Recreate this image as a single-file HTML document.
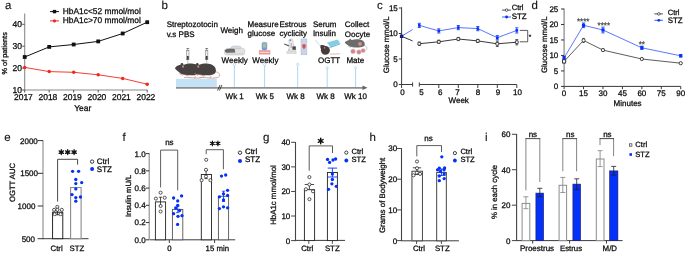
<!DOCTYPE html>
<html><head><meta charset="utf-8"><style>
html,body{margin:0;padding:0;background:#fff;}
svg{display:block;will-change:transform;}
text{font-family:"Liberation Sans", sans-serif;text-rendering:geometricPrecision;}
</style></head><body>
<svg width="685" height="254" viewBox="0 0 685 254">
<rect width="685" height="254" fill="#fff"/>
<text x="4.9" y="9.4" font-size="11.5" text-anchor="start" fill="#111"  stroke="#111" stroke-width="0.12">a</text>
<text x="161.6" y="9.2" font-size="11.5" text-anchor="start" fill="#111"  stroke="#111" stroke-width="0.12">b</text>
<text x="377.0" y="9.4" font-size="11.5" text-anchor="start" fill="#111"  stroke="#111" stroke-width="0.12">c</text>
<text x="531.6" y="9.2" font-size="11.5" text-anchor="start" fill="#111"  stroke="#111" stroke-width="0.12">d</text>
<text x="4.3" y="140.6" font-size="11.5" text-anchor="start" fill="#111"  stroke="#111" stroke-width="0.12">e</text>
<text x="122.6" y="140.6" font-size="11.5" text-anchor="start" fill="#111"  stroke="#111" stroke-width="0.12">f</text>
<text x="262.9" y="140.8" font-size="11.5" text-anchor="start" fill="#111"  stroke="#111" stroke-width="0.12">g</text>
<text x="369.4" y="141.0" font-size="11.5" text-anchor="start" fill="#111"  stroke="#111" stroke-width="0.12">h</text>
<text x="485.0" y="140.6" font-size="11.5" text-anchor="start" fill="#111"  stroke="#111" stroke-width="0.12">i</text>
<line x1="24.7" y1="13.5" x2="24.7" y2="90.5" stroke="#8a8a8a" stroke-width="1.1" />
<line x1="24.2" y1="90.0" x2="147.4" y2="90.0" stroke="#8a8a8a" stroke-width="1.1" />
<line x1="22.2" y1="90.0" x2="24.7" y2="90.0" stroke="#555" stroke-width="1" />
<text x="21.9" y="93.0" font-size="8.5" text-anchor="end" fill="#0a0a0a"  stroke="#0a0a0a" stroke-width="0.26">10</text>
<line x1="22.2" y1="68.1" x2="24.7" y2="68.1" stroke="#555" stroke-width="1" />
<text x="21.9" y="71.1" font-size="8.5" text-anchor="end" fill="#0a0a0a"  stroke="#0a0a0a" stroke-width="0.26">20</text>
<line x1="22.2" y1="46.2" x2="24.7" y2="46.2" stroke="#555" stroke-width="1" />
<text x="21.9" y="49.2" font-size="8.5" text-anchor="end" fill="#0a0a0a"  stroke="#0a0a0a" stroke-width="0.26">30</text>
<line x1="22.2" y1="24.299999999999997" x2="24.7" y2="24.299999999999997" stroke="#555" stroke-width="1" />
<text x="21.9" y="27.299999999999997" font-size="8.5" text-anchor="end" fill="#0a0a0a"  stroke="#0a0a0a" stroke-width="0.26">40</text>
<line x1="24.7" y1="90" x2="24.7" y2="92.5" stroke="#555" stroke-width="1" />
<text x="23.4" y="99.6" font-size="8.5" text-anchor="middle" fill="#0a0a0a"  stroke="#0a0a0a" stroke-width="0.26">2017</text>
<line x1="49.2" y1="90" x2="49.2" y2="92.5" stroke="#555" stroke-width="1" />
<text x="47.900000000000006" y="99.6" font-size="8.5" text-anchor="middle" fill="#0a0a0a"  stroke="#0a0a0a" stroke-width="0.26">2018</text>
<line x1="73.7" y1="90" x2="73.7" y2="92.5" stroke="#555" stroke-width="1" />
<text x="72.4" y="99.6" font-size="8.5" text-anchor="middle" fill="#0a0a0a"  stroke="#0a0a0a" stroke-width="0.26">2019</text>
<line x1="98.2" y1="90" x2="98.2" y2="92.5" stroke="#555" stroke-width="1" />
<text x="96.9" y="99.6" font-size="8.5" text-anchor="middle" fill="#0a0a0a"  stroke="#0a0a0a" stroke-width="0.26">2020</text>
<line x1="122.7" y1="90" x2="122.7" y2="92.5" stroke="#555" stroke-width="1" />
<text x="121.4" y="99.6" font-size="8.5" text-anchor="middle" fill="#0a0a0a"  stroke="#0a0a0a" stroke-width="0.26">2021</text>
<line x1="147.2" y1="90" x2="147.2" y2="92.5" stroke="#555" stroke-width="1" />
<text x="145.89999999999998" y="99.6" font-size="8.5" text-anchor="middle" fill="#0a0a0a"  stroke="#0a0a0a" stroke-width="0.26">2022</text>
<text x="82.8" y="111.2" font-size="8.5" text-anchor="middle" fill="#0a0a0a"  stroke="#0a0a0a" stroke-width="0.26">Year</text>
<text transform="translate(6.7,53.3) rotate(-90)" font-size="7.3" text-anchor="middle" fill="#0a0a0a"  stroke="#0a0a0a" stroke-width="0.26">% of patients</text>
<polyline points="24.7,67.4 49.2,71.6 73.7,72.3 98.2,74.8 122.7,78.4 147.2,84.2" fill="none" stroke="#f0281e" stroke-width="0.9" stroke-linejoin="round"/>
<circle cx="24.7" cy="67.4" r="1.75" fill="#f0281e" stroke="none" stroke-width="1"/>
<circle cx="49.2" cy="71.6" r="1.75" fill="#f0281e" stroke="none" stroke-width="1"/>
<circle cx="73.7" cy="72.3" r="1.75" fill="#f0281e" stroke="none" stroke-width="1"/>
<circle cx="98.2" cy="74.8" r="1.75" fill="#f0281e" stroke="none" stroke-width="1"/>
<circle cx="122.7" cy="78.4" r="1.75" fill="#f0281e" stroke="none" stroke-width="1"/>
<circle cx="147.2" cy="84.2" r="1.75" fill="#f0281e" stroke="none" stroke-width="1"/>
<polyline points="24.7,57.0 49.2,46.9 73.7,44.5 98.2,41.4 122.7,33.5 147.2,22.2" fill="none" stroke="#111" stroke-width="1.0" stroke-linejoin="round"/>
<rect x="22.8" y="55.1" width="3.8" height="3.8" fill="#111" stroke="none" stroke-width="1" />
<rect x="47.300000000000004" y="45.0" width="3.8" height="3.8" fill="#111" stroke="none" stroke-width="1" />
<rect x="71.8" y="42.6" width="3.8" height="3.8" fill="#111" stroke="none" stroke-width="1" />
<rect x="96.3" y="39.5" width="3.8" height="3.8" fill="#111" stroke="none" stroke-width="1" />
<rect x="120.8" y="31.6" width="3.8" height="3.8" fill="#111" stroke="none" stroke-width="1" />
<rect x="145.29999999999998" y="20.3" width="3.8" height="3.8" fill="#111" stroke="none" stroke-width="1" />
<line x1="50" y1="11.6" x2="59" y2="11.6" stroke="#111" stroke-width="1" />
<rect x="52.8" y="9.9" width="3.4" height="3.4" fill="#111" stroke="none" stroke-width="1" />
<line x1="50" y1="20.9" x2="59" y2="20.9" stroke="#f0281e" stroke-width="1" />
<circle cx="54.5" cy="20.9" r="1.6" fill="#f0281e" stroke="none" stroke-width="1"/>
<text x="62.8" y="13.7" font-size="8.4" text-anchor="start" fill="#0a0a0a"  stroke="#0a0a0a" stroke-width="0.26">HbA1c&lt;52 mmol/mol</text>
<text x="62.8" y="23.1" font-size="8.4" text-anchor="start" fill="#0a0a0a"  stroke="#0a0a0a" stroke-width="0.26">HbA1c&gt;70 mmol/mol</text>
<text x="166.7" y="27.0" font-size="8" text-anchor="start" fill="#0a0a0a"  stroke="#0a0a0a" stroke-width="0.26">Streptozotocin</text>
<text x="166.7" y="36.8" font-size="8" text-anchor="start" fill="#0a0a0a"  stroke="#0a0a0a" stroke-width="0.26">v.s PBS</text>
<text x="220.4" y="32.9" font-size="8" text-anchor="start" fill="#0a0a0a"  stroke="#0a0a0a" stroke-width="0.26">Weigh</text>
<text x="247.5" y="27.2" font-size="8" text-anchor="start" fill="#0a0a0a"  stroke="#0a0a0a" stroke-width="0.26">Measure</text>
<text x="247.5" y="36.3" font-size="8" text-anchor="start" fill="#0a0a0a"  stroke="#0a0a0a" stroke-width="0.26">glucose</text>
<text x="279.5" y="27.2" font-size="8" text-anchor="start" fill="#0a0a0a"  stroke="#0a0a0a" stroke-width="0.26">Estrous</text>
<text x="279.5" y="36.3" font-size="8" text-anchor="start" fill="#0a0a0a"  stroke="#0a0a0a" stroke-width="0.26">cyclicity</text>
<text x="312.9" y="27.0" font-size="8" text-anchor="start" fill="#0a0a0a"  stroke="#0a0a0a" stroke-width="0.26">Serum</text>
<text x="312.9" y="36.3" font-size="8" text-anchor="start" fill="#0a0a0a"  stroke="#0a0a0a" stroke-width="0.26">Insulin</text>
<text x="344.8" y="27.0" font-size="8" text-anchor="start" fill="#0a0a0a"  stroke="#0a0a0a" stroke-width="0.26">Collect</text>
<text x="344.8" y="36.5" font-size="8" text-anchor="start" fill="#0a0a0a"  stroke="#0a0a0a" stroke-width="0.26">Oocyte</text>
<text x="221.6" y="62.7" font-size="8" text-anchor="start" fill="#0a0a0a"  stroke="#0a0a0a" stroke-width="0.26">Weekly</text>
<text x="252.3" y="62.7" font-size="8" text-anchor="start" fill="#0a0a0a"  stroke="#0a0a0a" stroke-width="0.26">Weekly</text>
<text x="318.0" y="62.7" font-size="8" text-anchor="start" fill="#0a0a0a"  stroke="#0a0a0a" stroke-width="0.26">OGTT</text>
<text x="346.4" y="62.7" font-size="8" text-anchor="start" fill="#0a0a0a"  stroke="#0a0a0a" stroke-width="0.26">Mate</text>
<text x="234.7" y="99.1" font-size="8" text-anchor="middle" fill="#0a0a0a"  stroke="#0a0a0a" stroke-width="0.26">Wk 1</text>
<text x="264.8" y="99.1" font-size="8" text-anchor="middle" fill="#0a0a0a"  stroke="#0a0a0a" stroke-width="0.26">Wk 5</text>
<text x="295.5" y="99.1" font-size="8" text-anchor="middle" fill="#0a0a0a"  stroke="#0a0a0a" stroke-width="0.26">Wk 8</text>
<text x="325.6" y="99.1" font-size="8" text-anchor="middle" fill="#0a0a0a"  stroke="#0a0a0a" stroke-width="0.26">Wk 8</text>
<text x="355.6" y="99.1" font-size="8" text-anchor="middle" fill="#0a0a0a"  stroke="#0a0a0a" stroke-width="0.26">Wk 10</text>
<rect x="176" y="78.8" width="40.8" height="8.2" fill="#c4e2f6" stroke="none" stroke-width="1" />
<line x1="176" y1="87.85" x2="364" y2="87.85" stroke="#8f8f8f" stroke-width="1.8" />
<path d="M362.5,85.6 L367.5,87.8 L362.5,90.0 Z" fill="#666" stroke="none" stroke-width="1" />
<line x1="217.5" y1="90.6" x2="220.0" y2="85.0" stroke="#2e2e2e" stroke-width="0.85" />
<line x1="219.4" y1="90.6" x2="221.9" y2="85.0" stroke="#2e2e2e" stroke-width="0.85" />
<line x1="234.4" y1="64.5" x2="234.4" y2="87.0" stroke="#9ccbeb" stroke-width="0.8" />
<circle cx="234.4" cy="64.5" r="1.1" fill="#fff" stroke="#9ccbeb" stroke-width="0.6"/>
<line x1="264.6" y1="64.5" x2="264.6" y2="87.0" stroke="#9ccbeb" stroke-width="0.8" />
<circle cx="264.6" cy="64.5" r="1.1" fill="#fff" stroke="#9ccbeb" stroke-width="0.6"/>
<line x1="297.7" y1="64.3" x2="297.7" y2="87.0" stroke="#9ccbeb" stroke-width="0.8" />
<circle cx="297.7" cy="64.3" r="1.1" fill="#fff" stroke="#9ccbeb" stroke-width="0.6"/>
<line x1="327.2" y1="67.7" x2="327.2" y2="87.0" stroke="#9ccbeb" stroke-width="0.8" />
<circle cx="327.2" cy="67.7" r="1.1" fill="#fff" stroke="#9ccbeb" stroke-width="0.6"/>
<line x1="355.6" y1="67.7" x2="355.6" y2="87.0" stroke="#9ccbeb" stroke-width="0.8" />
<circle cx="355.6" cy="67.7" r="1.1" fill="#fff" stroke="#9ccbeb" stroke-width="0.6"/>
<path d="M200.00,71.80 C203.60,72.10 205.20,74.50 204.00,76.50 C202.60,78.30 196.00,78.30 191.00,77.70 C188.00,77.40 186.00,77.30 184.00,77.50" fill="none" stroke="#d39890" stroke-width="0.9" />
<path d="M192.50,74.60 C195.50,75.40 197.00,77.20 194.00,78.00" fill="none" stroke="#d39890" stroke-width="0.8" />
<path d="M175.00,68.20 C175.60,67.00 177.20,65.60 179.50,65.00 C181.00,64.60 182.50,64.60 184.00,64.80 C187.00,63.60 192.00,63.00 195.50,64.20 C199.00,65.40 201.00,68.20 200.60,71.20 C200.20,73.80 198.00,75.00 195.00,75.00 C191.00,75.40 187.00,75.40 184.00,74.80 C181.50,74.40 180.00,73.20 178.60,71.80 C177.20,70.60 175.60,69.40 175.00,68.20 Z" fill="#474241" stroke="none" stroke-width="1" />
<path d="M179.40,73.60 L182.80,75.40 M185.00,75.00 L188.50,75.80" fill="none" stroke="#d39890" stroke-width="0.85" />
<circle cx="182.0" cy="64.3" r="1.3" fill="#474241" stroke="none" stroke-width="1"/>
<ellipse cx="183.00" cy="66.40" rx="0.95" ry="1.25" fill="#c68d86"/>
<path d="M215.30,71.80 C218.90,72.10 220.50,74.50 219.30,76.50 C217.90,78.30 211.30,78.30 206.30,77.70 C203.30,77.40 201.30,77.30 199.30,77.50" fill="none" stroke="#d39890" stroke-width="0.9" />
<path d="M207.80,74.60 C210.80,75.40 212.30,77.20 209.30,78.00" fill="none" stroke="#d39890" stroke-width="0.8" />
<path d="M190.30,68.20 C190.90,67.00 192.50,65.60 194.80,65.00 C196.30,64.60 197.80,64.60 199.30,64.80 C202.30,63.60 207.30,63.00 210.80,64.20 C214.30,65.40 216.30,68.20 215.90,71.20 C215.50,73.80 213.30,75.00 210.30,75.00 C206.30,75.40 202.30,75.40 199.30,74.80 C196.80,74.40 195.30,73.20 193.90,71.80 C192.50,70.60 190.90,69.40 190.30,68.20 Z" fill="#474241" stroke="none" stroke-width="1" />
<path d="M194.70,73.60 L198.10,75.40 M200.30,75.00 L203.80,75.80" fill="none" stroke="#d39890" stroke-width="0.85" />
<circle cx="197.3" cy="64.3" r="1.3" fill="#474241" stroke="none" stroke-width="1"/>
<ellipse cx="198.30" cy="66.40" rx="0.95" ry="1.25" fill="#c68d86"/>
<rect x="186.60000000000002" y="50.6" width="2.4" height="9.2" fill="#ececec" stroke="#666" stroke-width="0.45" />
<rect x="186.9" y="56.0" width="1.8" height="3.6" fill="#3a3a3a" stroke="none" stroke-width="1" />
<line x1="187.8" y1="48.3" x2="187.8" y2="50.6" stroke="#444" stroke-width="0.6" />
<line x1="186.4" y1="48.5" x2="189.20000000000002" y2="48.5" stroke="#444" stroke-width="0.6" />
<line x1="187.8" y1="59.8" x2="187.8" y2="64.3" stroke="#8a8a8a" stroke-width="0.5" />
<rect x="205.5" y="50.6" width="2.4" height="9.2" fill="#ececec" stroke="#666" stroke-width="0.45" />
<rect x="205.79999999999998" y="56.0" width="1.8" height="3.6" fill="#3a3a3a" stroke="none" stroke-width="1" />
<line x1="206.7" y1="48.3" x2="206.7" y2="50.6" stroke="#444" stroke-width="0.6" />
<line x1="205.29999999999998" y1="48.5" x2="208.1" y2="48.5" stroke="#444" stroke-width="0.6" />
<line x1="206.7" y1="59.8" x2="206.7" y2="64.3" stroke="#8a8a8a" stroke-width="0.5" />
<path d="M224.4,51.0 C224.6,49.4 226,48.4 228,48.3 L242,48.0 C243.8,48.0 245,49 244.9,50.6 L244.6,53.2 C244.4,54.5 243.2,55.0 241.5,55.0 L227.5,55.0 C225.6,55.0 224.5,54.2 224.4,53.0 Z" fill="#e2e2e2" stroke="#b4b4b4" stroke-width="0.4" />
<path d="M225.0,50.6 C225.6,49.4 227,48.8 229,48.7 L234.5,48.6 L235.2,52.6 L227,52.8 C225.6,52.8 224.8,51.9 225.0,50.6 Z" fill="#5e5e5e" stroke="none" stroke-width="1" />
<line x1="226.5" y1="50.2" x2="233.8" y2="50.0" stroke="#8a8a8a" stroke-width="0.4" />
<line x1="226.3" y1="51.5" x2="234.2" y2="51.3" stroke="#8a8a8a" stroke-width="0.4" />
<ellipse cx="236.1" cy="47.4" rx="5.0" ry="1.45" fill="#d5dbe3" stroke="#a0a8b2" stroke-width="0.4"/>
<line x1="226" y1="54.0" x2="243.5" y2="53.8" stroke="#c0c0c0" stroke-width="0.5" />
<rect x="262.0" y="42.4" width="4.9" height="7.6" fill="#7d9dd8" stroke="#5a78b8" stroke-width="0.4" rx="1.4"/>
<rect x="262.7" y="43.4" width="3.5" height="4.2" fill="#a3c29c" stroke="none" stroke-width="1" />
<line x1="264.4" y1="49.8" x2="264.4" y2="50.6" stroke="#5a78b8" stroke-width="0.8" />
<rect x="258.9" y="50.2" width="11.4" height="4.3" fill="#ea9494" stroke="none" stroke-width="1" />
<line x1="259.8" y1="52.3" x2="269.4" y2="52.3" stroke="#fde8e8" stroke-width="1.0" />
<path d="M288.8,40.6 C289.4,38.9 291.6,38.4 292.8,39.6 L293.6,45.5 L295.6,47.0 L295.8,50.6 L289.6,50.8 L289.2,46.5 Z" fill="#ececec" stroke="#a8a8a8" stroke-width="0.4" />
<path d="M284.4,43.5 L289.2,45.2 L288.8,46.4 L284.0,44.6 Z" fill="#5e5e5e" stroke="none" stroke-width="1" />
<circle cx="290.3" cy="40.2" r="0.95" fill="#5b9bd8" stroke="none" stroke-width="1"/>
<rect x="292.4" y="46.4" width="3.4" height="3.4" fill="#4a4a4a" stroke="none" stroke-width="1" />
<rect x="290.6" y="43.0" width="1.3" height="5.0" fill="#b8b8b8" stroke="none" stroke-width="1" />
<path d="M286.8,51.6 L296.2,51.6 L296.2,53.4 L286.8,53.4 Z" fill="#e4e4e4" stroke="#a8a8a8" stroke-width="0.35" />
<rect x="288.0" y="48.6" width="2.0" height="2.4" fill="#cfcfcf" stroke="none" stroke-width="1" />
<rect x="301.0" y="38.9" width="5.9" height="15.9" fill="#c9d4e6" stroke="#a6b5cf" stroke-width="0.45" />
<path d="M304.0,44.0 C305.7,44.0 306.3,45.8 305.6,47.2 C305.2,48.0 304.6,48.6 304.0,49.6 C303.4,48.6 302.8,48.0 302.4,47.2 C301.7,45.8 302.3,44.0 304.0,44.0 Z" fill="#d65656" stroke="none" stroke-width="1" />
<line x1="315.5" y1="40.1" x2="319.9" y2="45.7" stroke="#b8d6ee" stroke-width="0.9" />
<path d="M330.0,46.8 L340.3,43.2 L340.3,44.3 L330.2,47.9 Z" fill="#5fb2cf" stroke="none" stroke-width="1" />
<path d="M327.3,42.4 L337.6,39.4 L340.3,43.2 L330.0,46.8 Z" fill="#86cde4" stroke="none" stroke-width="1" />
<path d="M327.3,42.4 L330.0,46.8 L330.2,47.9 L327.4,43.4 Z" fill="#eef8fb" stroke="#9fd2e4" stroke-width="0.3" />
<ellipse cx="325.4" cy="50.3" rx="4.5" ry="4.4" fill="#463b39"/>
<circle cx="322.8" cy="47.4" r="2.4" fill="#463b39" stroke="none" stroke-width="1"/>
<circle cx="321.3" cy="45.9" r="1.0" fill="#463b39" stroke="none" stroke-width="1"/>
<circle cx="324.6" cy="47.9" r="0.8" fill="#b97f78" stroke="none" stroke-width="1"/>
<line x1="330.2" y1="54.1" x2="340.2" y2="53.8" stroke="#d39890" stroke-width="0.7" />
<path d="M363.0,45.0 C366.5,45.8 367.8,48.0 366.2,50.2" fill="none" stroke="#9a9a9a" stroke-width="0.5" />
<path d="M344.80,42.50 C345.27,41.66 346.52,40.68 348.31,40.26 C349.48,39.98 350.65,39.98 351.82,40.12 C354.16,39.28 358.06,38.86 360.79,39.70 C363.52,40.54 365.08,42.50 364.77,44.60 C364.46,46.42 362.74,47.26 360.40,47.26 C357.28,47.54 354.16,47.54 351.82,47.12 C349.87,46.84 348.70,46.00 347.61,45.02 C346.52,44.18 345.27,43.34 344.80,42.50 Z" fill="#6c6c6c" stroke="none" stroke-width="1" />
<path d="M348.23,46.28 L350.88,47.54 M352.60,47.26 L355.33,47.82" fill="none" stroke="#b8b8b8" stroke-width="0.663" />
<circle cx="350.26" cy="39.77" r="1.014" fill="#6c6c6c" stroke="none" stroke-width="1"/>
<circle cx="360.0" cy="43.9" r="1.9" fill="#e08a8a" stroke="none" stroke-width="1"/>
<circle cx="353.0" cy="51.4" r="2.4" fill="#e27f80" stroke="#bfe0f0" stroke-width="0.5"/>
<circle cx="358.9" cy="52.1" r="2.4" fill="#e27f80" stroke="#bfe0f0" stroke-width="0.5"/>
<circle cx="363.1" cy="50.6" r="2.2" fill="#e27f80" stroke="#bfe0f0" stroke-width="0.5"/>
<line x1="401.6" y1="7.3" x2="401.6" y2="85.0" stroke="#3c3c3c" stroke-width="1" />
<line x1="398.8" y1="84.5" x2="401.6" y2="84.5" stroke="#3c3c3c" stroke-width="1" />
<text x="397.8" y="87.4" font-size="8" text-anchor="end" fill="#0a0a0a"  stroke="#0a0a0a" stroke-width="0.26">0</text>
<line x1="398.8" y1="59.0" x2="401.6" y2="59.0" stroke="#3c3c3c" stroke-width="1" />
<text x="397.8" y="61.9" font-size="8" text-anchor="end" fill="#0a0a0a"  stroke="#0a0a0a" stroke-width="0.26">5</text>
<line x1="398.8" y1="33.5" x2="401.6" y2="33.5" stroke="#3c3c3c" stroke-width="1" />
<text x="397.8" y="36.4" font-size="8" text-anchor="end" fill="#0a0a0a"  stroke="#0a0a0a" stroke-width="0.26">10</text>
<line x1="398.8" y1="8.0" x2="401.6" y2="8.0" stroke="#3c3c3c" stroke-width="1" />
<text x="397.8" y="10.9" font-size="8" text-anchor="end" fill="#0a0a0a"  stroke="#0a0a0a" stroke-width="0.26">15</text>
<line x1="401.6" y1="84.5" x2="412.6" y2="84.5" stroke="#3c3c3c" stroke-width="1" />
<line x1="412.6" y1="82.4" x2="412.6" y2="86.6" stroke="#3c3c3c" stroke-width="1" />
<line x1="419.3" y1="84.5" x2="516.8" y2="84.5" stroke="#3c3c3c" stroke-width="1" />
<line x1="419.3" y1="82.4" x2="419.3" y2="86.6" stroke="#3c3c3c" stroke-width="1" />
<line x1="401.6" y1="84.5" x2="401.6" y2="88.0" stroke="#3c3c3c" stroke-width="1" />
<line x1="438.8" y1="84.5" x2="438.8" y2="88.0" stroke="#3c3c3c" stroke-width="1" />
<line x1="458.3" y1="84.5" x2="458.3" y2="88.0" stroke="#3c3c3c" stroke-width="1" />
<line x1="477.8" y1="84.5" x2="477.8" y2="88.0" stroke="#3c3c3c" stroke-width="1" />
<line x1="497.3" y1="84.5" x2="497.3" y2="88.0" stroke="#3c3c3c" stroke-width="1" />
<line x1="516.8" y1="84.5" x2="516.8" y2="88.0" stroke="#3c3c3c" stroke-width="1" />
<text x="402.6" y="95.2" font-size="8" text-anchor="middle" fill="#0a0a0a"  stroke="#0a0a0a" stroke-width="0.26">0</text>
<text x="421.6" y="95.2" font-size="8" text-anchor="middle" fill="#0a0a0a"  stroke="#0a0a0a" stroke-width="0.26">5</text>
<text x="440.2" y="95.2" font-size="8" text-anchor="middle" fill="#0a0a0a"  stroke="#0a0a0a" stroke-width="0.26">6</text>
<text x="457.5" y="95.2" font-size="8" text-anchor="middle" fill="#0a0a0a"  stroke="#0a0a0a" stroke-width="0.26">7</text>
<text x="478.1" y="95.2" font-size="8" text-anchor="middle" fill="#0a0a0a"  stroke="#0a0a0a" stroke-width="0.26">8</text>
<text x="497.90000000000003" y="95.2" font-size="8" text-anchor="middle" fill="#0a0a0a"  stroke="#0a0a0a" stroke-width="0.26">9</text>
<text x="517.4" y="95.2" font-size="8" text-anchor="middle" fill="#0a0a0a"  stroke="#0a0a0a" stroke-width="0.26">10</text>
<text x="458.7" y="102.8" font-size="8" text-anchor="middle" fill="#0a0a0a"  stroke="#0a0a0a" stroke-width="0.26">Week</text>
<text transform="translate(389.1,44.8) rotate(-90)" font-size="7.85" text-anchor="middle" fill="#0a0a0a"  stroke="#0a0a0a" stroke-width="0.26">Glucose mmol/L</text>
<clipPath id="cgap"><rect x="0" y="0" width="412.6" height="254"/><rect x="419.3" y="0" width="300" height="254"/></clipPath>
<g clip-path="url(#cgap)">
<polyline points="401.6,36.3 419.3,43.7 438.8,41.8 458.3,39.0 477.8,40.9 497.3,43.8 516.8,42.2" fill="none" stroke="#222" stroke-width="0.9" stroke-linejoin="round"/>
<polyline points="401.6,36.3 419.3,25.4 438.8,30.9 458.3,27.6 477.8,28.6 497.3,37.7 516.8,30.4" fill="none" stroke="#2448ff" stroke-width="0.75" stroke-linejoin="round"/>
</g>
<rect x="399.90000000000003" y="34.599999999999994" width="3.4" height="3.4" fill="#14207a" stroke="none" stroke-width="1" />
<line x1="419.3" y1="42.1" x2="419.3" y2="45.300000000000004" stroke="#222" stroke-width="0.7" />
<line x1="417.90000000000003" y1="42.1" x2="420.7" y2="42.1" stroke="#222" stroke-width="0.7" />
<line x1="417.90000000000003" y1="45.300000000000004" x2="420.7" y2="45.300000000000004" stroke="#222" stroke-width="0.7" />
<rect x="417.90000000000003" y="42.300000000000004" width="2.8" height="2.8" fill="#fff" stroke="#222" stroke-width="0.8" rx="0.25"/>
<line x1="419.3" y1="23.299999999999997" x2="419.3" y2="27.5" stroke="#0530f8" stroke-width="0.8" />
<line x1="417.7" y1="23.299999999999997" x2="420.90000000000003" y2="23.299999999999997" stroke="#0530f8" stroke-width="0.8" />
<line x1="417.7" y1="27.5" x2="420.90000000000003" y2="27.5" stroke="#0530f8" stroke-width="0.8" />
<rect x="418.0" y="24.099999999999998" width="2.6" height="2.6" fill="#0530f8" stroke="none" stroke-width="1" />
<line x1="438.8" y1="40.199999999999996" x2="438.8" y2="43.4" stroke="#222" stroke-width="0.7" />
<line x1="437.40000000000003" y1="40.199999999999996" x2="440.2" y2="40.199999999999996" stroke="#222" stroke-width="0.7" />
<line x1="437.40000000000003" y1="43.4" x2="440.2" y2="43.4" stroke="#222" stroke-width="0.7" />
<rect x="437.40000000000003" y="40.4" width="2.8" height="2.8" fill="#fff" stroke="#222" stroke-width="0.8" rx="0.25"/>
<line x1="438.8" y1="28.799999999999997" x2="438.8" y2="33.0" stroke="#0530f8" stroke-width="0.8" />
<line x1="437.2" y1="28.799999999999997" x2="440.40000000000003" y2="28.799999999999997" stroke="#0530f8" stroke-width="0.8" />
<line x1="437.2" y1="33.0" x2="440.40000000000003" y2="33.0" stroke="#0530f8" stroke-width="0.8" />
<rect x="437.5" y="29.599999999999998" width="2.6" height="2.6" fill="#0530f8" stroke="none" stroke-width="1" />
<line x1="458.3" y1="37.4" x2="458.3" y2="40.6" stroke="#222" stroke-width="0.7" />
<line x1="456.90000000000003" y1="37.4" x2="459.7" y2="37.4" stroke="#222" stroke-width="0.7" />
<line x1="456.90000000000003" y1="40.6" x2="459.7" y2="40.6" stroke="#222" stroke-width="0.7" />
<rect x="456.90000000000003" y="37.6" width="2.8" height="2.8" fill="#fff" stroke="#222" stroke-width="0.8" rx="0.25"/>
<line x1="458.3" y1="25.5" x2="458.3" y2="29.700000000000003" stroke="#0530f8" stroke-width="0.8" />
<line x1="456.7" y1="25.5" x2="459.90000000000003" y2="25.5" stroke="#0530f8" stroke-width="0.8" />
<line x1="456.7" y1="29.700000000000003" x2="459.90000000000003" y2="29.700000000000003" stroke="#0530f8" stroke-width="0.8" />
<rect x="457.0" y="26.3" width="2.6" height="2.6" fill="#0530f8" stroke="none" stroke-width="1" />
<line x1="477.8" y1="39.3" x2="477.8" y2="42.5" stroke="#222" stroke-width="0.7" />
<line x1="476.40000000000003" y1="39.3" x2="479.2" y2="39.3" stroke="#222" stroke-width="0.7" />
<line x1="476.40000000000003" y1="42.5" x2="479.2" y2="42.5" stroke="#222" stroke-width="0.7" />
<rect x="476.40000000000003" y="39.5" width="2.8" height="2.8" fill="#fff" stroke="#222" stroke-width="0.8" rx="0.25"/>
<line x1="477.8" y1="26.5" x2="477.8" y2="30.700000000000003" stroke="#0530f8" stroke-width="0.8" />
<line x1="476.2" y1="26.5" x2="479.40000000000003" y2="26.5" stroke="#0530f8" stroke-width="0.8" />
<line x1="476.2" y1="30.700000000000003" x2="479.40000000000003" y2="30.700000000000003" stroke="#0530f8" stroke-width="0.8" />
<rect x="476.5" y="27.3" width="2.6" height="2.6" fill="#0530f8" stroke="none" stroke-width="1" />
<line x1="497.3" y1="41.099999999999994" x2="497.3" y2="46.5" stroke="#222" stroke-width="0.7" />
<line x1="495.90000000000003" y1="41.099999999999994" x2="498.7" y2="41.099999999999994" stroke="#222" stroke-width="0.7" />
<line x1="495.90000000000003" y1="46.5" x2="498.7" y2="46.5" stroke="#222" stroke-width="0.7" />
<rect x="495.90000000000003" y="42.4" width="2.8" height="2.8" fill="#fff" stroke="#222" stroke-width="0.8" rx="0.25"/>
<line x1="497.3" y1="35.6" x2="497.3" y2="39.800000000000004" stroke="#0530f8" stroke-width="0.8" />
<line x1="495.7" y1="35.6" x2="498.90000000000003" y2="35.6" stroke="#0530f8" stroke-width="0.8" />
<line x1="495.7" y1="39.800000000000004" x2="498.90000000000003" y2="39.800000000000004" stroke="#0530f8" stroke-width="0.8" />
<rect x="496.0" y="36.400000000000006" width="2.6" height="2.6" fill="#0530f8" stroke="none" stroke-width="1" />
<line x1="516.8" y1="39.5" x2="516.8" y2="44.900000000000006" stroke="#222" stroke-width="0.7" />
<line x1="515.4" y1="39.5" x2="518.1999999999999" y2="39.5" stroke="#222" stroke-width="0.7" />
<line x1="515.4" y1="44.900000000000006" x2="518.1999999999999" y2="44.900000000000006" stroke="#222" stroke-width="0.7" />
<rect x="515.4" y="40.800000000000004" width="2.8" height="2.8" fill="#fff" stroke="#222" stroke-width="0.8" rx="0.25"/>
<line x1="516.8" y1="27.799999999999997" x2="516.8" y2="33.0" stroke="#0530f8" stroke-width="0.8" />
<line x1="515.1999999999999" y1="27.799999999999997" x2="518.4" y2="27.799999999999997" stroke="#0530f8" stroke-width="0.8" />
<line x1="515.1999999999999" y1="33.0" x2="518.4" y2="33.0" stroke="#0530f8" stroke-width="0.8" />
<rect x="515.5" y="29.099999999999998" width="2.6" height="2.6" fill="#0530f8" stroke="none" stroke-width="1" />
<polyline points="519.8,30.4 527.7,30.4 527.7,41.8 519.8,41.8" fill="none" stroke="#333" stroke-width="0.8" stroke-linejoin="round"/>
<text x="530.0" y="38.6" font-size="6.5" text-anchor="middle" fill="#222"  stroke="#222" stroke-width="0.26">*</text>
<line x1="502.1" y1="10.1" x2="510.9" y2="10.1" stroke="#222" stroke-width="0.8" />
<circle cx="506.6" cy="10.1" r="1.3" fill="#fff" stroke="#222" stroke-width="0.7"/>
<line x1="502.1" y1="17.0" x2="510.9" y2="17.0" stroke="#0530f8" stroke-width="0.8" />
<circle cx="506.6" cy="17.0" r="1.4" fill="#0530f8" stroke="none" stroke-width="1"/>
<text x="511.7" y="10.4" font-size="7.6" text-anchor="start" fill="#0a0a0a"  stroke="#0a0a0a" stroke-width="0.26">Ctrl</text>
<text x="511.7" y="18.7" font-size="7.9" text-anchor="start" fill="#0a0a0a"  stroke="#0a0a0a" stroke-width="0.26">STZ</text>
<line x1="564.1" y1="8.5" x2="564.1" y2="87.0" stroke="#8f8f8f" stroke-width="1.3" />
<line x1="561.0" y1="86.4" x2="564.1" y2="86.4" stroke="#333" stroke-width="1" />
<text x="558.3" y="89.30000000000001" font-size="8" text-anchor="end" fill="#0a0a0a"  stroke="#0a0a0a" stroke-width="0.26">0</text>
<line x1="561.0" y1="70.92" x2="564.1" y2="70.92" stroke="#333" stroke-width="1" />
<text x="558.3" y="73.82000000000001" font-size="8" text-anchor="end" fill="#0a0a0a"  stroke="#0a0a0a" stroke-width="0.26">5</text>
<line x1="561.0" y1="55.440000000000005" x2="564.1" y2="55.440000000000005" stroke="#333" stroke-width="1" />
<text x="558.3" y="58.34" font-size="8" text-anchor="end" fill="#0a0a0a"  stroke="#0a0a0a" stroke-width="0.26">10</text>
<line x1="561.0" y1="39.96000000000001" x2="564.1" y2="39.96000000000001" stroke="#333" stroke-width="1" />
<text x="558.3" y="42.86000000000001" font-size="8" text-anchor="end" fill="#0a0a0a"  stroke="#0a0a0a" stroke-width="0.26">15</text>
<line x1="561.0" y1="24.480000000000004" x2="564.1" y2="24.480000000000004" stroke="#333" stroke-width="1" />
<text x="558.3" y="27.380000000000003" font-size="8" text-anchor="end" fill="#0a0a0a"  stroke="#0a0a0a" stroke-width="0.26">20</text>
<line x1="561.0" y1="9.0" x2="564.1" y2="9.0" stroke="#333" stroke-width="1" />
<text x="558.3" y="11.9" font-size="8" text-anchor="end" fill="#0a0a0a"  stroke="#0a0a0a" stroke-width="0.26">25</text>
<line x1="564.1" y1="86.4" x2="680.8" y2="86.4" stroke="#3a3a3a" stroke-width="1" />
<line x1="564.1" y1="86.4" x2="564.1" y2="89.2" stroke="#3a3a3a" stroke-width="1" />
<text x="564.1" y="96.1" font-size="8" text-anchor="middle" fill="#0a0a0a"  stroke="#0a0a0a" stroke-width="0.26">0</text>
<line x1="583.5400000000001" y1="86.4" x2="583.5400000000001" y2="89.2" stroke="#3a3a3a" stroke-width="1" />
<text x="583.5400000000001" y="96.1" font-size="8" text-anchor="middle" fill="#0a0a0a"  stroke="#0a0a0a" stroke-width="0.26">15</text>
<line x1="602.98" y1="86.4" x2="602.98" y2="89.2" stroke="#3a3a3a" stroke-width="1" />
<text x="602.98" y="96.1" font-size="8" text-anchor="middle" fill="#0a0a0a"  stroke="#0a0a0a" stroke-width="0.26">30</text>
<line x1="622.4200000000001" y1="86.4" x2="622.4200000000001" y2="89.2" stroke="#3a3a3a" stroke-width="1" />
<text x="622.4200000000001" y="96.1" font-size="8" text-anchor="middle" fill="#0a0a0a"  stroke="#0a0a0a" stroke-width="0.26">45</text>
<line x1="641.86" y1="86.4" x2="641.86" y2="89.2" stroke="#3a3a3a" stroke-width="1" />
<text x="641.86" y="96.1" font-size="8" text-anchor="middle" fill="#0a0a0a"  stroke="#0a0a0a" stroke-width="0.26">60</text>
<line x1="661.3000000000001" y1="86.4" x2="661.3000000000001" y2="89.2" stroke="#3a3a3a" stroke-width="1" />
<text x="661.3000000000001" y="96.1" font-size="8" text-anchor="middle" fill="#0a0a0a"  stroke="#0a0a0a" stroke-width="0.26">75</text>
<line x1="680.74" y1="86.4" x2="680.74" y2="89.2" stroke="#3a3a3a" stroke-width="1" />
<text x="680.74" y="96.1" font-size="8" text-anchor="middle" fill="#0a0a0a"  stroke="#0a0a0a" stroke-width="0.26">90</text>
<text x="627.6" y="105.6" font-size="8" text-anchor="middle" fill="#0a0a0a"  stroke="#0a0a0a" stroke-width="0.26">Minutes</text>
<text transform="translate(547.4,44.7) rotate(-90)" font-size="7.85" text-anchor="middle" fill="#0a0a0a"  stroke="#0a0a0a" stroke-width="0.26">Glucose mmol/L</text>
<polyline points="564.1,61.4 583.5400000000001,40.4 602.98,50.1 641.86,59.0 680.74,63.2" fill="none" stroke="#333" stroke-width="0.8" stroke-linejoin="round"/>
<polyline points="564.1,57.8 583.5400000000001,25.3 602.98,30.0 641.86,47.8 680.74,55.8" fill="none" stroke="#2448ff" stroke-width="0.75" stroke-linejoin="round"/>
<line x1="564.1" y1="56.599999999999994" x2="564.1" y2="59.0" stroke="#0530f8" stroke-width="0.8" />
<line x1="562.5" y1="56.599999999999994" x2="565.7" y2="56.599999999999994" stroke="#0530f8" stroke-width="0.8" />
<line x1="562.5" y1="59.0" x2="565.7" y2="59.0" stroke="#0530f8" stroke-width="0.8" />
<rect x="562.5" y="56.199999999999996" width="3.2" height="3.2" fill="#0530f8" stroke="none" stroke-width="1" />
<line x1="564.1" y1="60.4" x2="564.1" y2="62.4" stroke="#222" stroke-width="0.7" />
<line x1="562.8000000000001" y1="60.4" x2="565.4" y2="60.4" stroke="#222" stroke-width="0.7" />
<line x1="562.8000000000001" y1="62.4" x2="565.4" y2="62.4" stroke="#222" stroke-width="0.7" />
<circle cx="564.1" cy="61.4" r="1.6" fill="#fff" stroke="#222" stroke-width="0.8"/>
<line x1="583.5400000000001" y1="23.0" x2="583.5400000000001" y2="27.6" stroke="#0530f8" stroke-width="0.8" />
<line x1="581.94" y1="23.0" x2="585.1400000000001" y2="23.0" stroke="#0530f8" stroke-width="0.8" />
<line x1="581.94" y1="27.6" x2="585.1400000000001" y2="27.6" stroke="#0530f8" stroke-width="0.8" />
<rect x="581.94" y="23.7" width="3.2" height="3.2" fill="#0530f8" stroke="none" stroke-width="1" />
<line x1="583.5400000000001" y1="38.4" x2="583.5400000000001" y2="42.4" stroke="#222" stroke-width="0.7" />
<line x1="582.2400000000001" y1="38.4" x2="584.84" y2="38.4" stroke="#222" stroke-width="0.7" />
<line x1="582.2400000000001" y1="42.4" x2="584.84" y2="42.4" stroke="#222" stroke-width="0.7" />
<circle cx="583.5400000000001" cy="40.4" r="1.6" fill="#fff" stroke="#222" stroke-width="0.8"/>
<line x1="602.98" y1="27.1" x2="602.98" y2="32.9" stroke="#0530f8" stroke-width="0.8" />
<line x1="601.38" y1="27.1" x2="604.58" y2="27.1" stroke="#0530f8" stroke-width="0.8" />
<line x1="601.38" y1="32.9" x2="604.58" y2="32.9" stroke="#0530f8" stroke-width="0.8" />
<rect x="601.38" y="28.4" width="3.2" height="3.2" fill="#0530f8" stroke="none" stroke-width="1" />
<line x1="602.98" y1="48.9" x2="602.98" y2="51.300000000000004" stroke="#222" stroke-width="0.7" />
<line x1="601.6800000000001" y1="48.9" x2="604.28" y2="48.9" stroke="#222" stroke-width="0.7" />
<line x1="601.6800000000001" y1="51.300000000000004" x2="604.28" y2="51.300000000000004" stroke="#222" stroke-width="0.7" />
<circle cx="602.98" cy="50.1" r="1.6" fill="#fff" stroke="#222" stroke-width="0.8"/>
<line x1="641.86" y1="46.199999999999996" x2="641.86" y2="49.4" stroke="#0530f8" stroke-width="0.8" />
<line x1="640.26" y1="46.199999999999996" x2="643.46" y2="46.199999999999996" stroke="#0530f8" stroke-width="0.8" />
<line x1="640.26" y1="49.4" x2="643.46" y2="49.4" stroke="#0530f8" stroke-width="0.8" />
<rect x="640.26" y="46.199999999999996" width="3.2" height="3.2" fill="#0530f8" stroke="none" stroke-width="1" />
<line x1="641.86" y1="58.2" x2="641.86" y2="59.8" stroke="#222" stroke-width="0.7" />
<line x1="640.5600000000001" y1="58.2" x2="643.16" y2="58.2" stroke="#222" stroke-width="0.7" />
<line x1="640.5600000000001" y1="59.8" x2="643.16" y2="59.8" stroke="#222" stroke-width="0.7" />
<circle cx="641.86" cy="59.0" r="1.6" fill="#fff" stroke="#222" stroke-width="0.8"/>
<line x1="680.74" y1="54.599999999999994" x2="680.74" y2="57.0" stroke="#0530f8" stroke-width="0.8" />
<line x1="679.14" y1="54.599999999999994" x2="682.34" y2="54.599999999999994" stroke="#0530f8" stroke-width="0.8" />
<line x1="679.14" y1="57.0" x2="682.34" y2="57.0" stroke="#0530f8" stroke-width="0.8" />
<rect x="679.14" y="54.199999999999996" width="3.2" height="3.2" fill="#0530f8" stroke="none" stroke-width="1" />
<line x1="680.74" y1="62.400000000000006" x2="680.74" y2="64.0" stroke="#222" stroke-width="0.7" />
<line x1="679.44" y1="62.400000000000006" x2="682.04" y2="62.400000000000006" stroke="#222" stroke-width="0.7" />
<line x1="679.44" y1="64.0" x2="682.04" y2="64.0" stroke="#222" stroke-width="0.7" />
<circle cx="680.74" cy="63.2" r="1.6" fill="#fff" stroke="#222" stroke-width="0.8"/>
<rect x="562.5" y="59.8" width="3.2" height="3.2" fill="#fff" stroke="#222" stroke-width="0.8" />
<text x="583.2400000000001" y="23.5" font-size="8" text-anchor="middle" fill="#444"  stroke="#444" stroke-width="0.26">****</text>
<text x="603.78" y="27.6" font-size="8" text-anchor="middle" fill="#444"  stroke="#444" stroke-width="0.26">****</text>
<text x="641.86" y="47.1" font-size="8" text-anchor="middle" fill="#444"  stroke="#444" stroke-width="0.26">**</text>
<line x1="654.4" y1="13.9" x2="662.9" y2="13.9" stroke="#222" stroke-width="0.8" />
<circle cx="658.8" cy="13.9" r="1.3" fill="#fff" stroke="#222" stroke-width="0.7"/>
<line x1="654.4" y1="20.3" x2="662.9" y2="20.3" stroke="#0530f8" stroke-width="0.8" />
<circle cx="658.8" cy="20.3" r="1.4" fill="#0530f8" stroke="none" stroke-width="1"/>
<text x="667.7" y="14.8" font-size="7.6" text-anchor="start" fill="#0a0a0a"  stroke="#0a0a0a" stroke-width="0.26">Ctrl</text>
<text x="667.7" y="23.0" font-size="7.9" text-anchor="start" fill="#0a0a0a"  stroke="#0a0a0a" stroke-width="0.26">STZ</text>
<line x1="43.0" y1="140.29999999999998" x2="43.0" y2="239.2" stroke="#8a8a8a" stroke-width="1.1" />
<line x1="37.6" y1="238.7" x2="43.0" y2="238.7" stroke="#333" stroke-width="1" />
<text x="35.0" y="241.6" font-size="8" text-anchor="end" fill="#0a0a0a"  stroke="#0a0a0a" stroke-width="0.26">500</text>
<line x1="37.6" y1="206.0" x2="43.0" y2="206.0" stroke="#333" stroke-width="1" />
<text x="35.4" y="208.9" font-size="8" text-anchor="end" fill="#0a0a0a"  stroke="#0a0a0a" stroke-width="0.26">1000</text>
<line x1="37.6" y1="173.29999999999998" x2="43.0" y2="173.29999999999998" stroke="#333" stroke-width="1" />
<text x="38.0" y="176.2" font-size="8" text-anchor="end" fill="#0a0a0a"  stroke="#0a0a0a" stroke-width="0.26">1500</text>
<line x1="37.6" y1="140.6" x2="43.0" y2="140.6" stroke="#333" stroke-width="1" />
<text x="37.8" y="143.5" font-size="8" text-anchor="end" fill="#0a0a0a"  stroke="#0a0a0a" stroke-width="0.26">2000</text>
<line x1="43.0" y1="238.7" x2="88.5" y2="238.7" stroke="#3c3c3c" stroke-width="1" />
<rect x="52.6" y="212.2" width="10.2" height="26.5" fill="#fff" stroke="#111" stroke-width="0.9" />
<rect x="70.6" y="187.5" width="10.5" height="51.2" fill="#fff" stroke="#8c8c8c" stroke-width="1.1" />
<line x1="57.5" y1="209.6" x2="57.5" y2="214.8" stroke="#111" stroke-width="0.8" />
<line x1="55.9" y1="209.6" x2="59.1" y2="209.6" stroke="#111" stroke-width="0.8" />
<line x1="55.9" y1="214.8" x2="59.1" y2="214.8" stroke="#111" stroke-width="0.8" />
<circle cx="57.3" cy="206.9" r="1.55" fill="#fff" stroke="#222" stroke-width="0.75"/>
<circle cx="54.1" cy="209.8" r="1.55" fill="#fff" stroke="#222" stroke-width="0.75"/>
<circle cx="61.8" cy="209.8" r="1.55" fill="#fff" stroke="#222" stroke-width="0.75"/>
<circle cx="54.7" cy="214.2" r="1.55" fill="#fff" stroke="#222" stroke-width="0.75"/>
<circle cx="60.6" cy="214.2" r="1.55" fill="#fff" stroke="#222" stroke-width="0.75"/>
<circle cx="57.4" cy="209.8" r="1.55" fill="#fff" stroke="#222" stroke-width="0.75"/>
<circle cx="72.6" cy="171.3" r="1.65" fill="#0530f8" stroke="none" stroke-width="1"/>
<circle cx="78.6" cy="171.3" r="1.65" fill="#0530f8" stroke="none" stroke-width="1"/>
<circle cx="75.8" cy="179.5" r="1.65" fill="#0530f8" stroke="none" stroke-width="1"/>
<circle cx="75.8" cy="183.6" r="1.65" fill="#0530f8" stroke="none" stroke-width="1"/>
<circle cx="81.7" cy="182.6" r="1.65" fill="#0530f8" stroke="none" stroke-width="1"/>
<circle cx="75.8" cy="188.9" r="1.65" fill="#0530f8" stroke="none" stroke-width="1"/>
<circle cx="72.0" cy="194.6" r="1.65" fill="#0530f8" stroke="none" stroke-width="1"/>
<circle cx="75.8" cy="197.6" r="1.65" fill="#0530f8" stroke="none" stroke-width="1"/>
<circle cx="80.5" cy="197.0" r="1.65" fill="#0530f8" stroke="none" stroke-width="1"/>
<circle cx="75.8" cy="201.2" r="1.65" fill="#0530f8" stroke="none" stroke-width="1"/>
<polyline points="57.6,201.6 57.6,159.3 77.6,159.3 77.6,164.6" fill="none" stroke="#333" stroke-width="0.9" stroke-linejoin="round"/>
<path d="M61.3,149.6 L61.3,154.6 M59.13,150.85 L63.47,153.35 M59.13,153.35 L63.47,150.85" fill="none" stroke="#111" stroke-width="1.25" stroke-linecap="round"/>
<circle cx="61.3" cy="152.1" r="1.25" fill="#111" stroke="none" stroke-width="1"/>
<path d="M67.7,149.6 L67.7,154.6 M65.53,150.85 L69.87,153.35 M65.53,153.35 L69.87,150.85" fill="none" stroke="#111" stroke-width="1.25" stroke-linecap="round"/>
<circle cx="67.7" cy="152.1" r="1.25" fill="#111" stroke="none" stroke-width="1"/>
<path d="M74.1,149.6 L74.1,154.6 M71.93,150.85 L76.27,153.35 M71.93,153.35 L76.27,150.85" fill="none" stroke="#111" stroke-width="1.25" stroke-linecap="round"/>
<circle cx="74.1" cy="152.1" r="1.25" fill="#111" stroke="none" stroke-width="1"/>
<circle cx="92.1" cy="161.6" r="1.7" fill="#fff" stroke="#222" stroke-width="0.9"/>
<circle cx="92.1" cy="168.9" r="2.0" fill="#0530f8" stroke="none" stroke-width="1"/>
<text x="96.8" y="163.7" font-size="8" text-anchor="start" fill="#0a0a0a"  stroke="#0a0a0a" stroke-width="0.26">Ctrl</text>
<text x="96.8" y="171.6" font-size="8" text-anchor="start" fill="#0a0a0a"  stroke="#0a0a0a" stroke-width="0.26">STZ</text>
<text x="56.6" y="250.9" font-size="7.8" text-anchor="middle" fill="#0a0a0a"  stroke="#0a0a0a" stroke-width="0.26">Ctrl</text>
<text x="76.9" y="250.9" font-size="7.8" text-anchor="middle" fill="#0a0a0a"  stroke="#0a0a0a" stroke-width="0.26">STZ</text>
<text transform="translate(14.6,182.5) rotate(-90)" font-size="7.7" text-anchor="middle" fill="#0a0a0a"  stroke="#0a0a0a" stroke-width="0.26">OGTT AUC</text>
<line x1="149.2" y1="153.3" x2="149.2" y2="240.3" stroke="#8a8a8a" stroke-width="1.1" />
<line x1="145.79999999999998" y1="239.8" x2="149.2" y2="239.8" stroke="#333" stroke-width="1" />
<text x="145.6" y="242.70000000000002" font-size="8" text-anchor="end" fill="#0a0a0a"  stroke="#0a0a0a" stroke-width="0.26">0.0</text>
<line x1="145.79999999999998" y1="222.56" x2="149.2" y2="222.56" stroke="#333" stroke-width="1" />
<text x="145.6" y="225.46" font-size="8" text-anchor="end" fill="#0a0a0a"  stroke="#0a0a0a" stroke-width="0.26">0.2</text>
<line x1="145.79999999999998" y1="205.32" x2="149.2" y2="205.32" stroke="#333" stroke-width="1" />
<text x="145.6" y="208.22" font-size="8" text-anchor="end" fill="#0a0a0a"  stroke="#0a0a0a" stroke-width="0.26">0.4</text>
<line x1="145.79999999999998" y1="188.08" x2="149.2" y2="188.08" stroke="#333" stroke-width="1" />
<text x="145.6" y="190.98000000000002" font-size="8" text-anchor="end" fill="#0a0a0a"  stroke="#0a0a0a" stroke-width="0.26">0.6</text>
<line x1="145.79999999999998" y1="170.84" x2="149.2" y2="170.84" stroke="#333" stroke-width="1" />
<text x="145.6" y="173.74" font-size="8" text-anchor="end" fill="#0a0a0a"  stroke="#0a0a0a" stroke-width="0.26">0.8</text>
<line x1="145.79999999999998" y1="153.60000000000002" x2="149.2" y2="153.60000000000002" stroke="#333" stroke-width="1" />
<text x="145.6" y="156.50000000000003" font-size="8" text-anchor="end" fill="#0a0a0a"  stroke="#0a0a0a" stroke-width="0.26">1.0</text>
<line x1="150.0" y1="239.8" x2="235.2" y2="239.8" stroke="#3c3c3c" stroke-width="1" />
<line x1="169.3" y1="239.8" x2="169.3" y2="243.0" stroke="#3c3c3c" stroke-width="1" />
<line x1="214.6" y1="239.8" x2="214.6" y2="243.0" stroke="#3c3c3c" stroke-width="1" />
<rect x="155.4" y="201.9" width="10.2" height="37.9" fill="#fff" stroke="#222" stroke-width="0.9" />
<rect x="172.4" y="209.4" width="10.4" height="30.4" fill="#fff" stroke="#555" stroke-width="0.9" />
<rect x="201.3" y="174.5" width="10.2" height="65.3" fill="#fff" stroke="#222" stroke-width="0.9" />
<rect x="218.4" y="196.3" width="10.2" height="43.5" fill="#fff" stroke="#555" stroke-width="0.9" />
<line x1="160.5" y1="197.2" x2="160.5" y2="205.6" stroke="#222" stroke-width="0.8" />
<line x1="158.9" y1="197.2" x2="162.1" y2="197.2" stroke="#222" stroke-width="0.8" />
<line x1="158.9" y1="205.6" x2="162.1" y2="205.6" stroke="#222" stroke-width="0.8" />
<line x1="177.7" y1="206.3" x2="177.7" y2="212.6" stroke="#0530f8" stroke-width="0.8" />
<line x1="176.1" y1="206.3" x2="179.29999999999998" y2="206.3" stroke="#0530f8" stroke-width="0.8" />
<line x1="176.1" y1="212.6" x2="179.29999999999998" y2="212.6" stroke="#0530f8" stroke-width="0.8" />
<line x1="206.1" y1="170.3" x2="206.1" y2="178.6" stroke="#222" stroke-width="0.8" />
<line x1="204.5" y1="170.3" x2="207.7" y2="170.3" stroke="#222" stroke-width="0.8" />
<line x1="204.5" y1="178.6" x2="207.7" y2="178.6" stroke="#222" stroke-width="0.8" />
<line x1="223.5" y1="191.2" x2="223.5" y2="201.5" stroke="#0530f8" stroke-width="0.8" />
<line x1="221.9" y1="191.2" x2="225.1" y2="191.2" stroke="#0530f8" stroke-width="0.8" />
<line x1="221.9" y1="201.5" x2="225.1" y2="201.5" stroke="#0530f8" stroke-width="0.8" />
<circle cx="160.6" cy="192.7" r="1.55" fill="#fff" stroke="#222" stroke-width="0.75"/>
<circle cx="155.9" cy="198.6" r="1.55" fill="#fff" stroke="#222" stroke-width="0.75"/>
<circle cx="164.7" cy="197.7" r="1.55" fill="#fff" stroke="#222" stroke-width="0.75"/>
<circle cx="160.6" cy="206.0" r="1.55" fill="#fff" stroke="#222" stroke-width="0.75"/>
<circle cx="160.6" cy="211.5" r="1.55" fill="#fff" stroke="#222" stroke-width="0.75"/>
<circle cx="173.6" cy="198.0" r="1.65" fill="#0530f8" stroke="none" stroke-width="1"/>
<circle cx="181.6" cy="195.9" r="1.65" fill="#0530f8" stroke="none" stroke-width="1"/>
<circle cx="177.7" cy="200.9" r="1.65" fill="#0530f8" stroke="none" stroke-width="1"/>
<circle cx="177.7" cy="205.3" r="1.65" fill="#0530f8" stroke="none" stroke-width="1"/>
<circle cx="175.7" cy="208.0" r="1.65" fill="#0530f8" stroke="none" stroke-width="1"/>
<circle cx="179.6" cy="210.5" r="1.65" fill="#0530f8" stroke="none" stroke-width="1"/>
<circle cx="173.6" cy="213.7" r="1.65" fill="#0530f8" stroke="none" stroke-width="1"/>
<circle cx="178.0" cy="216.3" r="1.65" fill="#0530f8" stroke="none" stroke-width="1"/>
<circle cx="182.0" cy="215.7" r="1.65" fill="#0530f8" stroke="none" stroke-width="1"/>
<circle cx="177.6" cy="224.4" r="1.65" fill="#0530f8" stroke="none" stroke-width="1"/>
<circle cx="206.2" cy="159.8" r="1.55" fill="#fff" stroke="#222" stroke-width="0.75"/>
<circle cx="206.0" cy="169.8" r="1.55" fill="#fff" stroke="#222" stroke-width="0.75"/>
<circle cx="201.6" cy="180.2" r="1.55" fill="#fff" stroke="#222" stroke-width="0.75"/>
<circle cx="210.4" cy="180.2" r="1.55" fill="#fff" stroke="#222" stroke-width="0.75"/>
<circle cx="206.0" cy="176.5" r="1.55" fill="#fff" stroke="#222" stroke-width="0.75"/>
<circle cx="221.5" cy="176.1" r="1.65" fill="#0530f8" stroke="none" stroke-width="1"/>
<circle cx="225.7" cy="175.0" r="1.65" fill="#0530f8" stroke="none" stroke-width="1"/>
<circle cx="227.6" cy="190.3" r="1.65" fill="#0530f8" stroke="none" stroke-width="1"/>
<circle cx="223.5" cy="193.8" r="1.65" fill="#0530f8" stroke="none" stroke-width="1"/>
<circle cx="219.4" cy="196.8" r="1.65" fill="#0530f8" stroke="none" stroke-width="1"/>
<circle cx="227.6" cy="195.4" r="1.65" fill="#0530f8" stroke="none" stroke-width="1"/>
<circle cx="223.5" cy="200.0" r="1.65" fill="#0530f8" stroke="none" stroke-width="1"/>
<circle cx="219.4" cy="208.6" r="1.65" fill="#0530f8" stroke="none" stroke-width="1"/>
<circle cx="223.5" cy="206.8" r="1.65" fill="#0530f8" stroke="none" stroke-width="1"/>
<circle cx="227.6" cy="207.8" r="1.65" fill="#0530f8" stroke="none" stroke-width="1"/>
<polyline points="160.6,187.4 160.6,150.1 177.7,150.1 177.7,190.3" fill="none" stroke="#333" stroke-width="0.8" stroke-linejoin="round"/>
<polyline points="206.2,154.2 206.2,149.7 223.4,149.7 223.4,169.3" fill="none" stroke="#333" stroke-width="0.8" stroke-linejoin="round"/>
<text x="169.4" y="145.3" font-size="8" text-anchor="middle" fill="#0a0a0a"  stroke="#0a0a0a" stroke-width="0.26">ns</text>
<path d="M212.4,141.1 L212.4,145.70000000000002 M210.41,142.25 L214.39,144.55 M210.41,144.55 L214.39,142.25" fill="none" stroke="#111" stroke-width="1.2" stroke-linecap="round"/>
<circle cx="212.4" cy="143.4" r="1.15" fill="#111" stroke="none" stroke-width="1"/>
<path d="M217.9,141.1 L217.9,145.70000000000002 M215.91,142.25 L219.89,144.55 M215.91,144.55 L219.89,142.25" fill="none" stroke="#111" stroke-width="1.2" stroke-linecap="round"/>
<circle cx="217.9" cy="143.4" r="1.15" fill="#111" stroke="none" stroke-width="1"/>
<circle cx="240.0" cy="152.7" r="1.7" fill="#fff" stroke="#222" stroke-width="0.9"/>
<circle cx="240.0" cy="161.0" r="2.0" fill="#0530f8" stroke="none" stroke-width="1"/>
<text x="245.0" y="153.9" font-size="7.8" text-anchor="start" fill="#0a0a0a"  stroke="#0a0a0a" stroke-width="0.26">Ctrl</text>
<text x="245.0" y="162.2" font-size="8" text-anchor="start" fill="#0a0a0a"  stroke="#0a0a0a" stroke-width="0.26">STZ</text>
<text x="169.3" y="250.9" font-size="7.8" text-anchor="middle" fill="#0a0a0a"  stroke="#0a0a0a" stroke-width="0.26">0</text>
<text x="217.3" y="250.9" font-size="7.8" text-anchor="middle" fill="#0a0a0a"  stroke="#0a0a0a" stroke-width="0.26">15 min</text>
<text transform="translate(130.8,195.9) rotate(-90)" font-size="7.6" text-anchor="middle" fill="#0a0a0a"  stroke="#0a0a0a" stroke-width="0.26">Insulin mU/L</text>
<line x1="295.5" y1="142.0" x2="295.5" y2="241.1" stroke="#444" stroke-width="1.1" />
<line x1="291.1" y1="240.6" x2="295.5" y2="240.6" stroke="#444" stroke-width="1" />
<text x="290.3" y="243.5" font-size="8" text-anchor="end" fill="#0a0a0a"  stroke="#0a0a0a" stroke-width="0.26">0</text>
<line x1="291.1" y1="216.025" x2="295.5" y2="216.025" stroke="#444" stroke-width="1" />
<text x="290.3" y="218.925" font-size="8" text-anchor="end" fill="#0a0a0a"  stroke="#0a0a0a" stroke-width="0.26">10</text>
<line x1="291.1" y1="191.45" x2="295.5" y2="191.45" stroke="#444" stroke-width="1" />
<text x="290.3" y="194.35" font-size="8" text-anchor="end" fill="#0a0a0a"  stroke="#0a0a0a" stroke-width="0.26">20</text>
<line x1="291.1" y1="166.875" x2="295.5" y2="166.875" stroke="#444" stroke-width="1" />
<text x="290.3" y="169.775" font-size="8" text-anchor="end" fill="#0a0a0a"  stroke="#0a0a0a" stroke-width="0.26">30</text>
<line x1="291.1" y1="142.3" x2="295.5" y2="142.3" stroke="#444" stroke-width="1" />
<text x="290.3" y="145.20000000000002" font-size="8" text-anchor="end" fill="#0a0a0a"  stroke="#0a0a0a" stroke-width="0.26">40</text>
<line x1="295.5" y1="240.4" x2="345.0" y2="240.4" stroke="#3c3c3c" stroke-width="1" />
<line x1="308.8" y1="240.4" x2="308.8" y2="243.8" stroke="#3c3c3c" stroke-width="0.9" />
<line x1="332.4" y1="240.4" x2="332.4" y2="243.8" stroke="#3c3c3c" stroke-width="0.9" />
<rect x="304.4" y="189.7" width="10.2" height="50.9" fill="#fff" stroke="#222" stroke-width="0.9" />
<rect x="327.4" y="172.5" width="10.0" height="68.1" fill="#fff" stroke="#222" stroke-width="0.9" />
<line x1="309.4" y1="184.5" x2="309.4" y2="189.7" stroke="#222" stroke-width="0.8" />
<line x1="304.7" y1="184.5" x2="314.09999999999997" y2="184.5" stroke="#222" stroke-width="0.8" />
<circle cx="309.4" cy="177.1" r="1.55" fill="#fff" stroke="#222" stroke-width="0.75"/>
<circle cx="305.9" cy="189.3" r="1.55" fill="#fff" stroke="#222" stroke-width="0.75"/>
<circle cx="313.0" cy="191.3" r="1.55" fill="#fff" stroke="#222" stroke-width="0.75"/>
<circle cx="309.4" cy="199.2" r="1.55" fill="#fff" stroke="#222" stroke-width="0.75"/>
<circle cx="309.4" cy="184.5" r="1.55" fill="#fff" stroke="#222" stroke-width="0.75"/>
<line x1="332.4" y1="168.1" x2="332.4" y2="177.0" stroke="#0530f8" stroke-width="0.9" />
<line x1="327.7" y1="168.1" x2="337.09999999999997" y2="168.1" stroke="#0530f8" stroke-width="0.9" />
<line x1="327.7" y1="177.0" x2="337.09999999999997" y2="177.0" stroke="#0530f8" stroke-width="0.9" />
<circle cx="327.5" cy="159.4" r="1.65" fill="#0530f8" stroke="none" stroke-width="1"/>
<circle cx="329.6" cy="162.4" r="1.65" fill="#0530f8" stroke="none" stroke-width="1"/>
<circle cx="333.0" cy="160.0" r="1.65" fill="#0530f8" stroke="none" stroke-width="1"/>
<circle cx="335.6" cy="159.0" r="1.65" fill="#0530f8" stroke="none" stroke-width="1"/>
<circle cx="332.4" cy="174.0" r="1.65" fill="#0530f8" stroke="none" stroke-width="1"/>
<circle cx="332.4" cy="179.5" r="1.65" fill="#0530f8" stroke="none" stroke-width="1"/>
<circle cx="331.9" cy="183.8" r="1.65" fill="#0530f8" stroke="none" stroke-width="1"/>
<circle cx="336.3" cy="186.3" r="1.65" fill="#0530f8" stroke="none" stroke-width="1"/>
<circle cx="328.5" cy="189.3" r="1.65" fill="#0530f8" stroke="none" stroke-width="1"/>
<polyline points="309.2,170.7 309.2,145.9 332.5,145.9 332.5,153.0" fill="none" stroke="#333" stroke-width="0.8" stroke-linejoin="round"/>
<path d="M320.7,138.1 L320.7,143.70000000000002 M318.28,139.50 L323.12,142.30 M318.28,142.30 L323.12,139.50" fill="none" stroke="#111" stroke-width="1.4" stroke-linecap="round"/>
<circle cx="320.7" cy="140.9" r="1.4" fill="#111" stroke="none" stroke-width="1"/>
<circle cx="346.3" cy="152.6" r="1.6" fill="#fff" stroke="#222" stroke-width="0.85"/>
<circle cx="346.3" cy="160.5" r="1.9" fill="#0530f8" stroke="none" stroke-width="1"/>
<text x="351.5" y="154.2" font-size="7.6" text-anchor="start" fill="#0a0a0a"  stroke="#0a0a0a" stroke-width="0.26">Ctrl</text>
<text x="351.5" y="161.7" font-size="7.6" text-anchor="start" fill="#0a0a0a"  stroke="#0a0a0a" stroke-width="0.26">STZ</text>
<text x="307.3" y="250.9" font-size="7.8" text-anchor="middle" fill="#0a0a0a"  stroke="#0a0a0a" stroke-width="0.26">Ctrl</text>
<text x="332.3" y="250.9" font-size="7.8" text-anchor="middle" fill="#0a0a0a"  stroke="#0a0a0a" stroke-width="0.26">STZ</text>
<text transform="translate(276.0,195.0) rotate(-90)" font-size="7.85" text-anchor="middle" fill="#0a0a0a"  stroke="#0a0a0a" stroke-width="0.26">HbA1c mmol/mol</text>
<line x1="401.5" y1="148.2" x2="401.5" y2="241.1" stroke="#444" stroke-width="1.1" />
<line x1="397.1" y1="240.6" x2="401.5" y2="240.6" stroke="#444" stroke-width="1" />
<text x="397.2" y="243.5" font-size="8" text-anchor="end" fill="#0a0a0a"  stroke="#0a0a0a" stroke-width="0.26">0</text>
<line x1="397.1" y1="209.9" x2="401.5" y2="209.9" stroke="#444" stroke-width="1" />
<text x="397.2" y="212.8" font-size="8" text-anchor="end" fill="#0a0a0a"  stroke="#0a0a0a" stroke-width="0.26">10</text>
<line x1="397.1" y1="179.2" x2="401.5" y2="179.2" stroke="#444" stroke-width="1" />
<text x="397.2" y="182.1" font-size="8" text-anchor="end" fill="#0a0a0a"  stroke="#0a0a0a" stroke-width="0.26">20</text>
<line x1="397.1" y1="148.5" x2="401.5" y2="148.5" stroke="#444" stroke-width="1" />
<text x="397.2" y="151.4" font-size="8" text-anchor="end" fill="#0a0a0a"  stroke="#0a0a0a" stroke-width="0.26">30</text>
<line x1="401.5" y1="240.8" x2="458.9" y2="240.8" stroke="#3c3c3c" stroke-width="1" />
<line x1="416.6" y1="240.8" x2="416.6" y2="244.0" stroke="#3c3c3c" stroke-width="0.9" />
<line x1="441.4" y1="240.8" x2="441.4" y2="244.0" stroke="#3c3c3c" stroke-width="0.9" />
<rect x="411.9" y="171.2" width="10.5" height="69.6" fill="#fff" stroke="#333" stroke-width="0.9" />
<line x1="411.9" y1="171.6" x2="411.9" y2="240.6" stroke="#999" stroke-width="1.0" />
<rect x="436.7" y="172.4" width="9.6" height="68.4" fill="#fff" stroke="#333" stroke-width="0.9" />
<line x1="417.0" y1="167.8" x2="417.0" y2="174.5" stroke="#222" stroke-width="0.8" />
<line x1="412.8" y1="167.8" x2="421.2" y2="167.8" stroke="#222" stroke-width="0.8" />
<line x1="412.8" y1="174.5" x2="421.2" y2="174.5" stroke="#222" stroke-width="0.8" />
<circle cx="417.0" cy="161.5" r="1.55" fill="#fff" stroke="#222" stroke-width="0.75"/>
<circle cx="417.0" cy="168.2" r="1.55" fill="#fff" stroke="#222" stroke-width="0.75"/>
<circle cx="413.5" cy="175.3" r="1.55" fill="#fff" stroke="#222" stroke-width="0.75"/>
<circle cx="416.8" cy="172.7" r="1.55" fill="#fff" stroke="#222" stroke-width="0.75"/>
<circle cx="420.1" cy="173.9" r="1.55" fill="#fff" stroke="#222" stroke-width="0.75"/>
<line x1="441.5" y1="169.0" x2="441.5" y2="175.5" stroke="#0530f8" stroke-width="0.8" />
<line x1="437.5" y1="169.0" x2="445.5" y2="169.0" stroke="#0530f8" stroke-width="0.8" />
<line x1="437.5" y1="175.5" x2="445.5" y2="175.5" stroke="#0530f8" stroke-width="0.8" />
<circle cx="441.8" cy="156.8" r="1.65" fill="#0530f8" stroke="none" stroke-width="1"/>
<circle cx="439.3" cy="168.2" r="1.65" fill="#0530f8" stroke="none" stroke-width="1"/>
<circle cx="437.5" cy="169.8" r="1.65" fill="#0530f8" stroke="none" stroke-width="1"/>
<circle cx="444.6" cy="168.0" r="1.65" fill="#0530f8" stroke="none" stroke-width="1"/>
<circle cx="444.0" cy="169.8" r="1.65" fill="#0530f8" stroke="none" stroke-width="1"/>
<circle cx="440.4" cy="171.5" r="1.65" fill="#0530f8" stroke="none" stroke-width="1"/>
<circle cx="439.3" cy="176.0" r="1.65" fill="#0530f8" stroke="none" stroke-width="1"/>
<circle cx="444.2" cy="173.9" r="1.65" fill="#0530f8" stroke="none" stroke-width="1"/>
<circle cx="444.2" cy="178.6" r="1.65" fill="#0530f8" stroke="none" stroke-width="1"/>
<circle cx="439.3" cy="180.7" r="1.65" fill="#0530f8" stroke="none" stroke-width="1"/>
<polyline points="416.8,156.3 416.8,145.6 441.5,145.6 441.5,152.0" fill="none" stroke="#333" stroke-width="0.8" stroke-linejoin="round"/>
<text x="428.5" y="141.2" font-size="8" text-anchor="middle" fill="#0a0a0a"  stroke="#0a0a0a" stroke-width="0.26">ns</text>
<circle cx="454.9" cy="153.1" r="1.6" fill="#fff" stroke="#222" stroke-width="0.85"/>
<circle cx="454.9" cy="160.5" r="1.9" fill="#0530f8" stroke="none" stroke-width="1"/>
<text x="460.4" y="154.2" font-size="7.6" text-anchor="start" fill="#0a0a0a"  stroke="#0a0a0a" stroke-width="0.26">Ctrl</text>
<text x="460.4" y="161.7" font-size="7.6" text-anchor="start" fill="#0a0a0a"  stroke="#0a0a0a" stroke-width="0.26">STZ</text>
<text x="419.0" y="250.9" font-size="7.8" text-anchor="middle" fill="#0a0a0a"  stroke="#0a0a0a" stroke-width="0.26">Ctrl</text>
<text x="442.3" y="250.9" font-size="7.8" text-anchor="middle" fill="#0a0a0a"  stroke="#0a0a0a" stroke-width="0.26">STZ</text>
<text transform="translate(384.6,195.4) rotate(-90)" font-size="7.9" text-anchor="middle" fill="#0a0a0a"  stroke="#0a0a0a" stroke-width="0.26">Grams of Bodyweight</text>
<line x1="516.6" y1="133.97999999999996" x2="516.6" y2="241.1" stroke="#444" stroke-width="1.1" />
<line x1="511.90000000000003" y1="240.6" x2="516.6" y2="240.6" stroke="#444" stroke-width="1" />
<text x="510.4" y="243.5" font-size="8" text-anchor="end" fill="#0a0a0a"  stroke="#0a0a0a" stroke-width="0.26">0</text>
<line x1="511.90000000000003" y1="205.16" x2="516.6" y2="205.16" stroke="#444" stroke-width="1" />
<text x="510.4" y="208.06" font-size="8" text-anchor="end" fill="#0a0a0a"  stroke="#0a0a0a" stroke-width="0.26">20</text>
<line x1="511.90000000000003" y1="169.72" x2="516.6" y2="169.72" stroke="#444" stroke-width="1" />
<text x="510.4" y="172.62" font-size="8" text-anchor="end" fill="#0a0a0a"  stroke="#0a0a0a" stroke-width="0.26">40</text>
<line x1="511.90000000000003" y1="134.27999999999997" x2="516.6" y2="134.27999999999997" stroke="#444" stroke-width="1" />
<text x="510.4" y="137.17999999999998" font-size="8" text-anchor="end" fill="#0a0a0a"  stroke="#0a0a0a" stroke-width="0.26">60</text>
<line x1="516.4" y1="240.6" x2="622.6" y2="240.6" stroke="#3c3c3c" stroke-width="1" />
<line x1="532.7" y1="240.6" x2="532.7" y2="243.6" stroke="#3c3c3c" stroke-width="1" />
<line x1="569.6" y1="240.6" x2="569.6" y2="243.6" stroke="#3c3c3c" stroke-width="1" />
<line x1="606.5" y1="240.6" x2="606.5" y2="243.6" stroke="#3c3c3c" stroke-width="1" />
<rect x="522.1" y="203.4" width="7.699999999999932" height="37.19999999999999" fill="#fff" stroke="#8c8c8c" stroke-width="1.0" />
<rect x="559.1" y="185.3" width="7.5" height="55.29999999999998" fill="#fff" stroke="#8c8c8c" stroke-width="1.0" />
<rect x="596.3" y="159.0" width="7.7000000000000455" height="81.6" fill="#fff" stroke="#8c8c8c" stroke-width="1.0" />
<rect x="535.9" y="193.1" width="7.7000000000000455" height="47.5" fill="#0530f8" stroke="#1a1a60" stroke-width="0.6" />
<rect x="572.9" y="184.1" width="7.7000000000000455" height="56.5" fill="#0530f8" stroke="#1a1a60" stroke-width="0.6" />
<rect x="609.6" y="170.9" width="8.299999999999955" height="69.69999999999999" fill="#0530f8" stroke="#1a1a60" stroke-width="0.6" />
<line x1="525.9" y1="196.8" x2="525.9" y2="208.7" stroke="#8c8c8c" stroke-width="0.9" />
<line x1="523.4" y1="196.8" x2="528.4" y2="196.8" stroke="#8c8c8c" stroke-width="0.9" />
<line x1="523.4" y1="208.7" x2="528.4" y2="208.7" stroke="#8c8c8c" stroke-width="0.9" />
<line x1="539.8" y1="188.3" x2="539.8" y2="196.6" stroke="#222" stroke-width="0.8" />
<line x1="537.3" y1="188.3" x2="542.3" y2="188.3" stroke="#222" stroke-width="0.8" />
<line x1="537.3" y1="196.6" x2="542.3" y2="196.6" stroke="#222" stroke-width="0.8" />
<line x1="562.8" y1="177.4" x2="562.8" y2="192.5" stroke="#8c8c8c" stroke-width="0.9" />
<line x1="560.3" y1="177.4" x2="565.3" y2="177.4" stroke="#8c8c8c" stroke-width="0.9" />
<line x1="560.3" y1="192.5" x2="565.3" y2="192.5" stroke="#8c8c8c" stroke-width="0.9" />
<line x1="576.7" y1="178.8" x2="576.7" y2="189.5" stroke="#222" stroke-width="0.8" />
<line x1="574.2" y1="178.8" x2="579.2" y2="178.8" stroke="#222" stroke-width="0.8" />
<line x1="574.2" y1="189.5" x2="579.2" y2="189.5" stroke="#222" stroke-width="0.8" />
<line x1="600.1" y1="150.7" x2="600.1" y2="166.6" stroke="#8c8c8c" stroke-width="0.9" />
<line x1="597.6" y1="150.7" x2="602.6" y2="150.7" stroke="#8c8c8c" stroke-width="0.9" />
<line x1="597.6" y1="166.6" x2="602.6" y2="166.6" stroke="#8c8c8c" stroke-width="0.9" />
<line x1="613.7" y1="166.4" x2="613.7" y2="175.2" stroke="#222" stroke-width="0.8" />
<line x1="611.2" y1="166.4" x2="616.2" y2="166.4" stroke="#222" stroke-width="0.8" />
<line x1="611.2" y1="175.2" x2="616.2" y2="175.2" stroke="#222" stroke-width="0.8" />
<line x1="525.9" y1="138.6" x2="525.9" y2="190.3" stroke="#777" stroke-width="0.9" />
<line x1="539.8" y1="138.6" x2="539.8" y2="182.0" stroke="#777" stroke-width="0.9" />
<line x1="525.4499999999999" y1="138.6" x2="540.25" y2="138.6" stroke="#333" stroke-width="0.9" />
<line x1="562.8" y1="138.6" x2="562.8" y2="171.3" stroke="#777" stroke-width="0.9" />
<line x1="576.6" y1="138.6" x2="576.6" y2="171.3" stroke="#777" stroke-width="0.9" />
<line x1="562.3499999999999" y1="138.6" x2="577.0500000000001" y2="138.6" stroke="#333" stroke-width="0.9" />
<line x1="600.0" y1="138.6" x2="600.0" y2="145.2" stroke="#777" stroke-width="0.9" />
<line x1="613.6" y1="138.6" x2="613.6" y2="156.2" stroke="#777" stroke-width="0.9" />
<line x1="599.55" y1="138.6" x2="614.0500000000001" y2="138.6" stroke="#333" stroke-width="0.9" />
<text x="532.9" y="136.7" font-size="8" text-anchor="middle" fill="#0a0a0a"  stroke="#0a0a0a" stroke-width="0.26">ns</text>
<text x="570.2" y="136.7" font-size="8" text-anchor="middle" fill="#0a0a0a"  stroke="#0a0a0a" stroke-width="0.26">ns</text>
<text x="607.4" y="136.7" font-size="8" text-anchor="middle" fill="#0a0a0a"  stroke="#0a0a0a" stroke-width="0.26">ns</text>
<rect x="629.5" y="143.8" width="2.4" height="2.4" fill="#fff" stroke="#333" stroke-width="0.7" />
<rect x="629.4" y="153.2" width="2.6" height="2.6" fill="#0530f8" stroke="none" stroke-width="1" />
<text x="635.3" y="147.0" font-size="7.6" text-anchor="start" fill="#0a0a0a"  stroke="#0a0a0a" stroke-width="0.26">Ctrl</text>
<text x="635.3" y="156.8" font-size="7.6" text-anchor="start" fill="#0a0a0a"  stroke="#0a0a0a" stroke-width="0.26">STZ</text>
<text x="537.0" y="250.9" font-size="8" text-anchor="middle" fill="#0a0a0a"  stroke="#0a0a0a" stroke-width="0.26">Proestrus</text>
<text x="571.0" y="250.9" font-size="7.8" text-anchor="middle" fill="#0a0a0a"  stroke="#0a0a0a" stroke-width="0.26">Estrus</text>
<text x="609.8" y="250.9" font-size="7.9" text-anchor="middle" fill="#0a0a0a"  stroke="#0a0a0a" stroke-width="0.26">M/D</text>
<text transform="translate(496.6,192.0) rotate(-90)" font-size="7.8" text-anchor="middle" fill="#0a0a0a"  stroke="#0a0a0a" stroke-width="0.26">% in each cycle</text>
</svg>
</body></html>
